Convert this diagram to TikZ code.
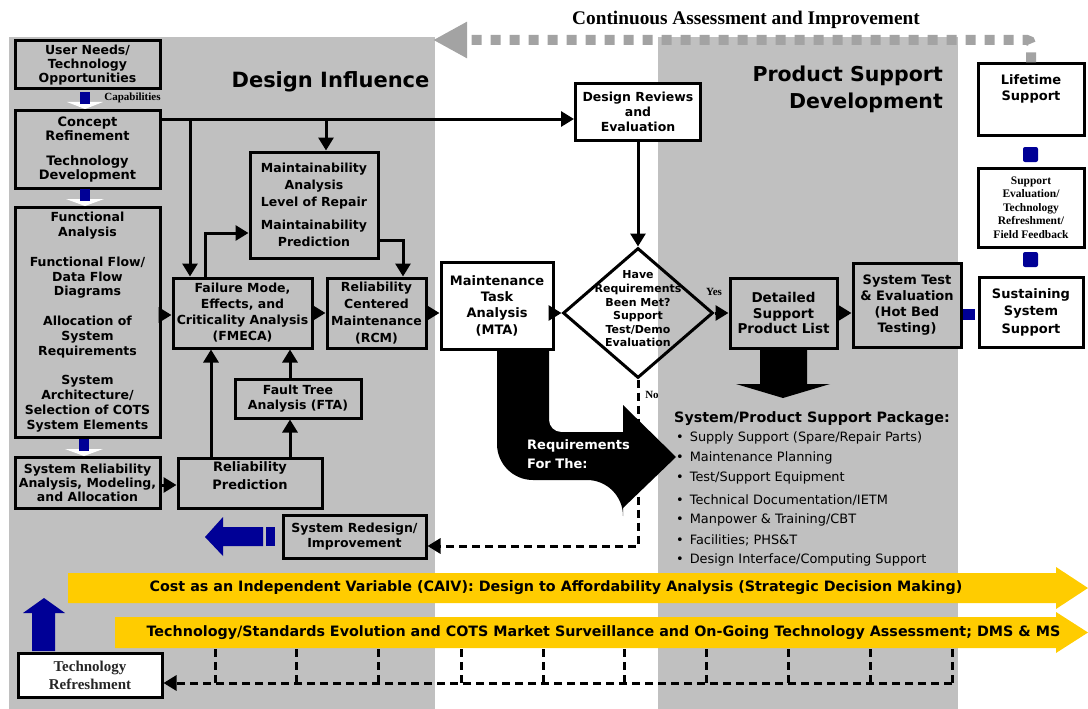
\documentclass[tikz,border=0pt]{standalone}
\usepackage{fontspec}
\setmainfont{DejaVu Sans}
\newfontfamily\tms{Liberation Serif}
\usetikzlibrary{arrows.meta,shapes.geometric}
\definecolor{panel}{RGB}{192,192,192}
\definecolor{dotgray}{RGB}{163,163,163}
\definecolor{navy}{RGB}{0,0,150}
\definecolor{gold}{RGB}{255,204,0}
\newcommand\fs[2]{\fontsize{#1}{#2}\selectfont}

\begin{document}
\begin{tikzpicture}[x=1pt,y=-1pt,
  box/.style={draw, line width=3pt, inner sep=0pt, align=center, font=\bfseries\fs{12.5}{15}},
  wbox/.style={box, fill=white},
  gbox/.style={box, fill=panel},
  lbl/.style={inner sep=0pt, align=center, font=\bfseries\fs{12.5}{15}},
  conn/.style={line width=3pt, -{Triangle[length=13pt,width=15pt]}},
  dline/.style={line width=3pt, dash pattern=on 8pt off 5pt},
  dconn/.style={conn, dash pattern=on 8pt off 5pt},
  contflow/.style={line width=10pt, dotgray, dash pattern=on 10pt off 9pt, rounded corners=4pt,
    -{Triangle[length=34pt,width=34pt]}},
  bluepc/.style={fill=navy},
  yband/.style={fill=gold},
  pkg/.style={anchor=west, inner sep=0pt, font=\fs{12.9}{14}}
]
\useasboundingbox (0,0) rectangle (1088,709);

% background panels
\fill[panel] (9,37) rectangle (435,709);
\fill[panel] (658,37) rectangle (958,709);

% headings
\node[lbl, font=\bfseries\fs{21}{27}] (hdesign) at (330.5,82) {Design Influence};
\node[lbl, font=\bfseries\fs{20.5}{27}, align=right, anchor=east] (hsupport) at (943,89.5) {Product Support\\Development};
\node[lbl, font=\tms\bfseries\fs{19.3}{20}] (hcont) at (746,20) {Continuous Assessment and Improvement};

% left column
\node[box, minimum width=145, minimum height=48, font=\bfseries\fs{12.5}{14}] (needs) at (87.5,65) {User Needs/\\Technology\\Opportunities};
\node[box, minimum width=145, minimum height=77, font=\bfseries\fs{13}{14.5}] (concept) at (87.5,149.5) {Concept\\Refinement\\[10pt]Technology\\Development};
\node[box, minimum width=145, minimum height=230, font=\bfseries\fs{12.5}{14.75}] (func) at (87.5,322)
  {Functional\\Analysis\\[15pt]Functional Flow/\\Data Flow\\Diagrams\\[15pt]Allocation of\\System\\Requirements\\[15pt]System\\Architecture/\\Selection of COTS\\System Elements};
\node[box, minimum width=145, minimum height=51, font=\bfseries\fs{12.5}{14}] (sysrel) at (87.5,482.5) {System Reliability\\Analysis, Modeling,\\and Allocation};
\node[lbl, font=\tms\bfseries\fs{11}{12}] (capab) at (132.5,98) {Capabilities};

% analysis boxes
\node[box, minimum width=144, minimum height=50] (relpred) at (250,483) {};
\node[lbl, font=\bfseries\fs{13}{18}] (relpredtxt) at (250,476) {Reliability\\Prediction};
\node[box, minimum width=139, minimum height=70, font=\bfseries\fs{12.5}{16}] (fmeca) at (242.5,313) {Failure Mode,\\Effects, and\\Criticality Analysis\\(FMECA)};
\node[box, minimum width=126, minimum height=39, font=\bfseries\fs{12.5}{15}] (fta) at (298,398.5) {Fault Tree\\Analysis (FTA)};
\node[box, minimum width=99, minimum height=70, font=\bfseries\fs{12.5}{17}] (rcm) at (376.5,313) {Reliability\\Centered\\Maintenance\\(RCM)};
\node[box, minimum width=128, minimum height=106, font=\bfseries\fs{12.5}{17}] (maint) at (314,205) {Maintainability\\Analysis\\Level of Repair\\[6pt]Maintainability\\Prediction};
\node[gbox, minimum width=143, minimum height=43, font=\bfseries\fs{12.5}{15}] (redesign) at (354.5,536.5) {System Redesign/\\Improvement};

% centre
\node[wbox, minimum width=125, minimum height=56, font=\bfseries\fs{12.5}{15}] (dr) at (638,112) {Design Reviews\\and\\Evaluation};
\node[wbox, minimum width=112, minimum height=87, font=\bfseries\fs{13}{16.3}] (mta) at (497,305.5) {Maintenance\\Task\\Analysis\\(MTA)};
\node[draw, diamond, line width=3pt, minimum width=150, minimum height=130, inner sep=0pt] (dia) at (638,313) {};
\node[lbl, font=\bfseries\fs{11}{13.6}] (diatxt) at (638,309) {Have\\Requirements\\Been Met?\\Support\\Test/Demo\\Evaluation};
\node[lbl, font=\tms\bfseries\fs{11}{12}] (yes) at (714,292) {Yes};
\node[lbl, font=\tms\bfseries\fs{11}{12}] (no) at (652,395) {No};

% product support
\node[gbox, minimum width=107, minimum height=70, font=\bfseries\fs{13.5}{15.5}] (detail) at (783.5,313) {Detailed\\Support\\Product List};
\node[gbox, minimum width=108, minimum height=84, font=\bfseries\fs{13}{16}] (systest) at (907,305) {System Test\\\& Evaluation\\(Hot Bed\\Testing)};

% right column
\node[wbox, minimum width=104, minimum height=70, font=\bfseries\fs{13}{17.5}] (sustain) at (1031,312) {Sustaining\\System\\Support};
\node[wbox, minimum width=106, minimum height=79, font=\tms\bfseries\fs{11.5}{13.5}] (supeval) at (1031,207.5) {Support\\Evaluation/\\Technology\\Refreshment/\\Field Feedback};
\node[wbox, minimum width=106, minimum height=71] (life) at (1031,99.5) {};
\node[lbl, font=\bfseries\fs{13}{16}] (lifetxt) at (1031,89) {Lifetime\\Support};

% bottom left
\node[wbox, minimum width=144, minimum height=44, font=\tms\bfseries\fs{15}{18}, text=black!85] (techref) at (90,675) {Technology\\Refreshment};

% continuous assessment loop
\coordinate (conttip) at (433,40);
\draw[contflow] (life.north) -- (life.north |- conttip) -- (conttip);

% connectors
\coordinate (j1) at (190,119);
\coordinate (j2) at (326,119);
\draw[conn] (concept.east |- j1) -- (dr.west |- j1);
\draw[conn] (j1) -- (j1 |- fmeca.north);
\draw[conn] (j2) -- (j2 |- maint.north);
\draw[conn] (func.east |- 0,315) -- (fmeca.west |- 0,315);
\draw[conn] (fmeca.north -| 205,0) |- (maint.west |- 0,233);
\draw[conn] (maint.east |- 0,240) -| (rcm.north -| 403,0);
\draw[conn] (fmeca.east) -- (rcm.west);
\draw[conn] (rcm.east) -- (mta.west |- rcm.east);
\draw[conn] (mta.east |- dia.west) -- (dia.west);
\draw[conn] (dr.south) -- (dia.north);
\draw[conn] (dia.east) -- (detail.west |- dia.east);
\draw[conn] (detail.east) -- (systest.west |- detail.east);
\draw[conn] (relpred.north -| 211,0) -- (fmeca.south -| 211,0);
\draw[conn] (relpred.north -| 290,0) -- (fta.south -| 290,0);
\draw[conn] (fta.north -| 290,0) -- (fmeca.south -| 290,0);
\draw[conn] (sysrel.east |- 0,485) -- (relpred.west |- 0,485);
\draw[dconn] (dia.south) -- (dia.south |- 0,546) -- (redesign.east |- 0,546);

% blue block arrows between the left boxes (white heads)
\fill[white] (67,102) -- (103,102) -- (85,109) -- cycle;
\fill[bluepc] (80,92) rectangle (90,104);
\fill[white] (66,199) -- (104,199) -- (85,206) -- cycle;
\fill[bluepc] (80,189) rectangle (90,201);
\fill[white] (65,449) -- (103,449) -- (84,456) -- cycle;
\fill[bluepc] (79,439) rectangle (89,451);

% blue links in the support column
\fill[bluepc, rounded corners=2pt] (1023,252) rectangle (1038,267);
\fill[bluepc, rounded corners=2pt] (1023,147) rectangle (1038,162);
\fill[bluepc] (963,309) rectangle (975,320);

% redesign feedback arrow
\fill[bluepc] (205,537) -- (223,517) -- (223,527) -- (263,527) -- (263,546) -- (223,546) -- (223,556) -- cycle;
\fill[bluepc] (266,527) rectangle (275,546);

% technology refreshment up arrow
\fill[bluepc] (44,598) -- (65,613) -- (55,613) -- (55,651) -- (32,651) -- (32,613) -- (23,613) -- cycle;

% requirements arrow out of MTA
\fill[black] (497,349) [rounded corners=36pt] -- (497,480) -- (623,480) [sharp corners] -- (623,508) -- (676,457) -- (623,405) -- (623,432) [rounded corners=12pt] -- (549,432) [sharp corners] -- (549,349) -- cycle;
\node[lbl, anchor=west, align=left, text=white, font=\bfseries\fs{13}{19}] (reqtxt) at (527,454) {Requirements\\For The:};

% arrow down to support package
\fill[black] (760,347) -- (807,347) -- (807,384) -- (830,384) -- (783,398) -- (736,384) -- (760,384) -- cycle;

% support package list
\node[pkg, font=\bfseries\fs{14.3}{15}] (pkgtitle) at (674,419) {System/Product Support Package:};
\foreach \yy/\tt [count=\i] in {438/{Supply Support (Spare/Repair Parts)}, 458/{Maintenance Planning}, 478/{Test/Support Equipment}, 500/{Technical Documentation/IETM}, 520/{Manpower \& Training/CBT}, 540/{Facilities; PHS\&T}, 560/{Design Interface/Computing Support}}{
  \node[pkg] (pkg\i) at (676,\yy) {\textbullet\hspace{6pt}\tt};
}

% yellow bands
\fill[yband] (68,573) -- (1056,573) -- (1056,567) -- (1088,588) -- (1056,609) -- (1056,603) -- (68,603) -- cycle;
\node[lbl, font=\bfseries\fs{14.3}{15}] (caiv) at (556,588) {Cost as an Independent Variable (CAIV): Design to Affordability Analysis (Strategic Decision Making)};
\fill[yband] (115,617) -- (1056,617) -- (1056,612) -- (1088,632.5) -- (1056,653) -- (1056,648) -- (115,648) -- cycle;
\node[lbl, font=\bfseries\fs{14.3}{15}] (tech) at (603.5,632.5) {Technology/Standards Evolution and COTS Market Surveillance and On-Going Technology Assessment; DMS \& MS};

% surveillance feedback to technology refreshment
\foreach \xx in {215,296,378,461,543,624,706,788,870,952}{
  \draw[dline] (\xx,649) -- (\xx,683);
}
\coordinate (fbstart) at (952,683);
\draw[dconn] (fbstart) -- (techref.east |- fbstart);

\end{tikzpicture}
\end{document}
